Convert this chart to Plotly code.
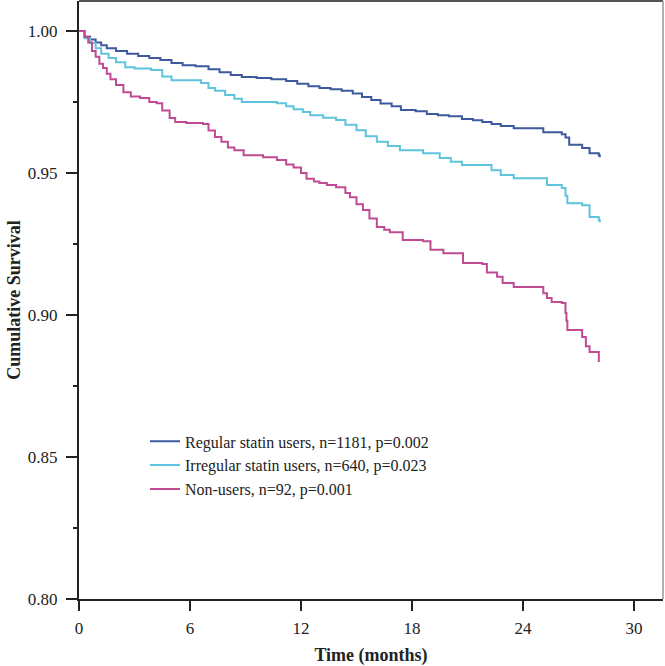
import plotly.graph_objects as go

regular_t = [0, 0.3, 0.6, 0.9, 1.2, 1.5, 2.0, 2.6, 3.2, 3.8, 4.4, 5.0, 5.6, 6.3, 7.0, 7.6, 8.2, 8.8,
             9.6, 10.4, 11.2, 11.8, 12.4, 13.0, 13.6, 14.2, 14.8, 15.3, 15.8, 16.3, 16.9, 17.4, 18.2,
             18.8, 19.4, 20.0, 20.7, 21.3, 21.8, 22.3, 22.8, 23.5, 25.1, 26.1, 26.3, 26.5, 27.2, 27.6,
             28.1, 28.15]
regular_s = [1.0, 0.998, 0.997, 0.996, 0.995, 0.994, 0.993, 0.992, 0.9912, 0.9905, 0.9898, 0.9888,
             0.988, 0.9876, 0.9866, 0.9855, 0.9845, 0.9838, 0.9835, 0.983, 0.9824, 0.9815, 0.9806,
             0.980, 0.9795, 0.979, 0.978, 0.9768, 0.9757, 0.9745, 0.9735, 0.9722, 0.9718, 0.9708,
             0.9704, 0.970, 0.969, 0.9686, 0.968, 0.9673, 0.9666, 0.9658, 0.9644, 0.9637, 0.9625,
             0.960, 0.9588, 0.957, 0.9563, 0.9556]

irregular_t = [0, 0.3, 0.6, 0.9, 1.2, 1.6, 2.0, 2.5, 3.0, 3.9, 4.5, 5.0, 6.6, 7.0, 7.35, 7.9, 8.4,
               8.8, 10.7, 11.2, 11.6, 12.1, 12.5, 13.2, 13.9, 14.4, 15.0, 15.5, 16.1, 16.7, 17.35,
               18.6, 19.5, 20.1, 20.7, 22.3, 22.8, 23.5, 25.3, 26.1, 26.3, 26.4, 27.2, 27.6, 28.1,
               28.15]
irregular_s = [1.0, 0.9975, 0.9958, 0.994, 0.992, 0.9905, 0.989, 0.9873, 0.9868, 0.9863, 0.984,
               0.9827, 0.9817, 0.980, 0.979, 0.9775, 0.9762, 0.975, 0.9746, 0.9735, 0.9725, 0.9715,
               0.9704, 0.9695, 0.9687, 0.967, 0.9651, 0.963, 0.961, 0.9595, 0.958, 0.957, 0.9553,
               0.954, 0.9528, 0.951, 0.9493, 0.9482, 0.9458, 0.9447, 0.942, 0.9394, 0.9387, 0.9345,
               0.9335, 0.9327]

nonusers_t = [0, 0.3, 0.5, 0.7, 0.9, 1.1, 1.3, 1.5, 1.7, 2.0, 2.4, 2.8, 3.3, 3.8, 4.2, 4.5, 4.9,
              5.2, 5.8, 6.7, 7.0, 7.35, 7.7, 8.05, 8.4, 8.9, 9.95, 10.7, 11.2, 11.6, 12.0, 12.3,
              12.7, 13.0, 13.4, 13.9, 14.4, 14.65, 15.0, 15.35, 15.7, 16.1, 16.5, 16.8, 17.5, 18.6,
              19.0, 19.7, 20.76, 21.8, 22.05, 22.6, 22.9, 23.5, 25.1, 25.3, 25.55, 26.1, 26.3,
              26.35, 26.4, 27.2, 27.4, 27.6, 28.1]
nonusers_s = [1.0, 0.998, 0.996, 0.993, 0.991, 0.9885, 0.987, 0.985, 0.983, 0.981, 0.9785, 0.977,
              0.9764, 0.975, 0.9746, 0.972, 0.9694, 0.968, 0.9676, 0.9673, 0.965, 0.9627, 0.961,
              0.959, 0.958, 0.9563, 0.9556, 0.9546, 0.953, 0.952, 0.950, 0.948, 0.947, 0.9465,
              0.9458, 0.945, 0.943, 0.9415, 0.939, 0.937, 0.934, 0.931, 0.930, 0.9292, 0.9264,
              0.926, 0.923, 0.9218, 0.9183, 0.918, 0.915, 0.9135, 0.9113, 0.9099, 0.9077, 0.906,
              0.9046, 0.9042, 0.9007, 0.898, 0.8947, 0.8923, 0.889, 0.887, 0.8835]

series_names = ["Regular statin users, n=1181, p=0.002",
                "Irregular statin users, n=640, p=0.023",
                "Non-users, n=92, p=0.001"]
series_colors = ["#3d5a9e", "#5ec4dd", "#c04b93"]

x_ticks = [0, 6, 12, 18, 24, 30]
y_ticks = [0.80, 0.85, 0.90, 0.95, 1.00]

FONT = "Liberation Serif, Times New Roman, serif"

fig = go.Figure()
for t, s, name, col in zip([regular_t, irregular_t, nonusers_t],
                           [regular_s, irregular_s, nonusers_s],
                           series_names, series_colors):
    fig.add_trace(go.Scatter(x=t, y=s, mode="lines", name=name,
                             line=dict(color=col, width=2, shape="hv")))

fig.update_layout(
    width=665, height=666,
    margin=dict(l=79, r=2, t=1, b=67),
    plot_bgcolor="white", paper_bgcolor="white",
    font=dict(family=FONT, size=17, color="#222222"),
    showlegend=True,
    legend=dict(x=0.113, y=0.292, xanchor="left", yanchor="top",
                font=dict(family=FONT, size=16, color="#222222"),
                bgcolor="rgba(0,0,0,0)", tracegroupgap=0),
    xaxis=dict(range=[0, 31.57], tickvals=x_ticks, ticks="outside", ticklen=10,
               tickwidth=2, tickcolor="#222222", showgrid=False, zeroline=False,
               showline=True, linecolor="#222222", linewidth=2, automargin=False,
               title=dict(text="<b>Time (months)</b>", font=dict(family=FONT, size=18),
                          standoff=12),
               ticklabelstandoff=3),
    yaxis=dict(range=[0.80, 1.0106], tickvals=y_ticks, tickformat=".2f", ticks="outside",
               ticklen=11, tickwidth=2, tickcolor="#222222", showgrid=False, zeroline=False,
               showline=True, linecolor="#222222", linewidth=2, automargin=False,
               minor=dict(dtick=0.025, tick0=0.8, ticks="outside", ticklen=4, tickwidth=1.5,
                          tickcolor="#222222"),
               title=dict(text="<b>Cumulative Survival</b>", font=dict(family=FONT, size=18),
                          standoff=3),
               ticklabelstandoff=5),
)

# frame (top and right borders)
fig.add_shape(type="line", xref="paper", yref="paper", x0=0, x1=1, y0=1, y1=1,
              line=dict(color="#555555", width=2))
fig.add_shape(type="line", xref="paper", yref="paper", x0=1, x1=1, y0=0, y1=1,
              line=dict(color="#999999", width=1.5))

fig.write_html("out.html", config={"displayModeBar": False},
               post_script="document.body.style.margin='0px';")
